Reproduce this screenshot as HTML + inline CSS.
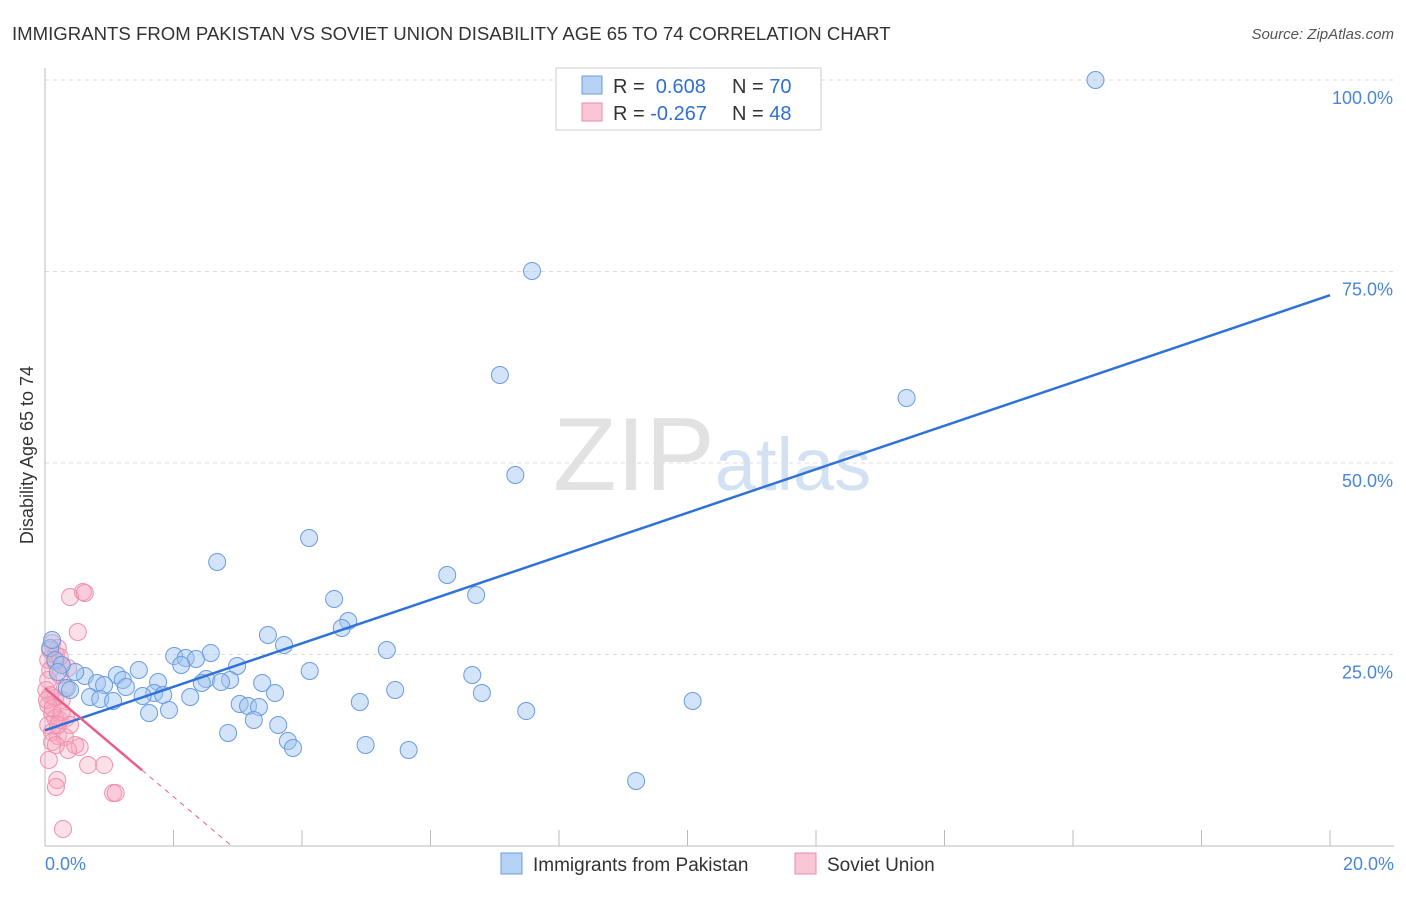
<!DOCTYPE html>
<html><head><meta charset="utf-8"><style>
body{margin:0;background:#fff;font-family:"Liberation Sans",sans-serif}
svg text{font-family:"Liberation Sans",sans-serif}
</style></head><body>
<svg width="1406" height="892">
<text x="12" y="40" font-size="18.6" fill="#333">IMMIGRANTS FROM PAKISTAN VS SOVIET UNION DISABILITY AGE 65 TO 74 CORRELATION CHART</text>
<text x="1394" y="39" font-size="15" fill="#555" font-style="italic" text-anchor="end">Source: ZipAtlas.com</text>
<text x="553" y="490" font-size="104" fill="#e2e2e2" font-family="Liberation Serif">ZIP<tspan fill="#d3e2f3" font-family="Liberation Sans" font-size="74">atlas</tspan></text>
<g id="grid"></g>
<line x1="45" y1="68" x2="45" y2="846" stroke="#bbb"/>
<line x1="45" y1="846" x2="1394" y2="846" stroke="#bbb"/>
<text transform="translate(33,455) rotate(-90)" font-size="18" fill="#333" text-anchor="middle">Disability Age 65 to 74</text>
<text x="45" y="870" font-size="18" fill="#4a86d8">0.0%</text>
<text x="1394" y="870" font-size="18" fill="#4a86d8" text-anchor="end">20.0%</text>
<g id="marks"></g>
<g>
<rect x="556" y="68" width="265" height="62" fill="#fff" stroke="#ccc"/>
<rect x="582" y="76" width="20" height="18" fill="#b7d2f5" stroke="#6a9be0"/>
<rect x="582" y="103" width="20" height="18" fill="#f9c6d5" stroke="#f08aaa"/>
<text x="613" y="93" font-size="20" fill="#333">R = <tspan fill="#2f6fd6">&#160;0.608</tspan><tspan x="732">N = </tspan><tspan fill="#2f6fd6">70</tspan></text>
<text x="613" y="120" font-size="20" fill="#333">R = <tspan fill="#2f6fd6">-0.267</tspan><tspan x="732">N = </tspan><tspan fill="#2f6fd6">48</tspan></text>
</g>
<g>
<rect x="501" y="853" width="21" height="21" fill="#b7d2f5" stroke="#6a9be0"/>
<text x="533" y="871" font-size="19" fill="#333">Immigrants from Pakistan</text>
<rect x="795" y="853" width="21" height="21" fill="#f9c6d5" stroke="#f08aaa"/>
<text x="827" y="871" font-size="19" fill="#333">Soviet Union</text>
</g>
</svg>
<script>
const yTicks=[25,50,75,100];
const yTickLabels=["25.0%","50.0%","75.0%","100.0%"];
const xTicks=[2,4,6,8,10,12,14,16,18,20];
const blueX=[16.35,7.58,7.08,13.41,7.32,4.11,2.68,6.26,6.71,4.5,4.72,4.62,3.47,3.72,2.58,5.32,2.01,2.19,2.35,2.99,4.12,1.46,2.12,6.65,1.12,0.62,0.47,0.81,1.21,1.76,2.51,2.88,3.38,2.74,2.44,1.26,0.92,0.34,1.7,1.84,1.52,2.26,3.58,5.45,6.8,0.7,0.86,1.06,3.03,4.9,3.16,3.33,10.08,7.49,1.62,1.93,3.25,3.63,2.85,3.78,3.86,4.99,5.66,9.2,0.08,0.16,0.26,0.2,0.39,0.11];
const blueY=[100,75.07,61.49,58.49,48.43,40.21,37.08,35.38,32.77,32.25,29.37,28.46,27.55,26.24,25.2,25.59,24.8,24.54,24.41,23.5,22.85,22.98,23.63,22.32,22.32,22.19,22.72,21.28,21.67,21.41,21.8,21.67,21.28,21.41,21.28,20.76,21.02,20.63,19.97,19.71,19.58,19.45,19.97,20.37,19.97,19.45,19.19,18.93,18.54,18.8,18.28,18.15,18.93,17.62,17.36,17.75,16.45,15.8,14.75,13.71,12.79,13.19,12.53,8.49,25.85,24.28,23.63,22.72,20.37,26.89];
const pinkX=[0.59,0.39,0.62,0.51,0.11,0.2,0.05,0.16,0.26,0.36,0.08,0.23,0.05,0.31,0.08,0.16,0.26,0.05,0.11,0.16,0.23,0.33,0.05,0.39,0.11,0.2,0.31,0.11,0.54,0.36,0.67,0.92,0.19,0.17,1.06,1.1,0.28,0.08,0.17,0.23,0.02,0.03,0.12,0.26,0.2,0.17,0.06,0.47];
const pinkY=[33.16,32.51,33.03,27.94,26.5,25.85,24.28,24.02,23.63,23.24,22.98,22.32,21.67,20.63,19.71,19.32,19.06,18.41,17.36,16.71,16.45,16.71,15.8,15.8,14.88,14.36,14.23,13.58,12.92,12.53,10.57,10.57,8.62,7.7,6.92,6.92,2.22,25.59,24.93,24.67,20.37,19.06,18.02,17.49,15.8,13.19,11.23,13.19];
const blueTrend=[15.1,71.9];      // y at x=0 and x=20
const pinkTrend=[20.6,9.9];       // y at x=0 and x=1.51
const pinkSolidEnd=1.51;
const X0=45,X1=1330,Y0=846,Y100=80;
const sx=v=>X0+(v/20)*(X1-X0);
const sy=v=>Y0-(v/100)*(Y0-Y100);
const NS="http://www.w3.org/2000/svg";
const grid=document.getElementById('grid'),marks=document.getElementById('marks');
function mk(tag,attrs,parent){const e=document.createElementNS(NS,tag);for(const k in attrs)e.setAttribute(k,attrs[k]);parent.appendChild(e);return e;}
yTicks.forEach((t,i)=>{
 const l=mk('line',{x1:45,x2:1394,y1:sy(t),y2:sy(t),stroke:'#ddd','stroke-dasharray':'4,4'},grid);
 
 
 const tx=mk('text',{x:1393,y:sy(t)+24,'font-size':18,fill:'#4a86d8','text-anchor':'end'},grid);
 tx.textContent=yTickLabels[i];
 
 
});
xTicks.forEach(t=>{
 const l=mk('line',{x1:sx(t),x2:sx(t),y1:830,y2:846,stroke:'#bbb'},grid);
 
 
});
pinkX.forEach((x,i)=>{
 const c=mk('circle',{cx:sx(x),cy:sy(pinkY[i]),r:8.5,fill:'rgba(245,165,190,0.35)',stroke:'#f090b0','stroke-width':1},marks);
 
 
});
blueX.forEach((x,i)=>{
 const c=mk('circle',{cx:sx(x),cy:sy(blueY[i]),r:8.5,fill:'rgba(160,195,240,0.45)',stroke:'#6a9be0','stroke-width':1},marks);
 
 
});
const bl=mk('line',{x1:sx(0),y1:sy(blueTrend[0]),x2:sx(20),y2:sy(blueTrend[1]),stroke:'#2f72d8','stroke-width':2.5},marks);


const slope=(pinkTrend[1]-pinkTrend[0])/pinkSolidEnd;
const zeroX=-pinkTrend[0]/slope;
const pl=mk('line',{x1:sx(0),y1:sy(pinkTrend[0]),x2:sx(pinkSolidEnd),y2:sy(pinkTrend[1]),stroke:'#e8608a','stroke-width':2.5},marks);


const pd=mk('line',{x1:sx(pinkSolidEnd),y1:sy(pinkTrend[1]),x2:sx(zeroX),y2:sy(0),stroke:'#e8608a','stroke-width':1,'stroke-dasharray':'5,5'},marks);


</script>
</body></html>
